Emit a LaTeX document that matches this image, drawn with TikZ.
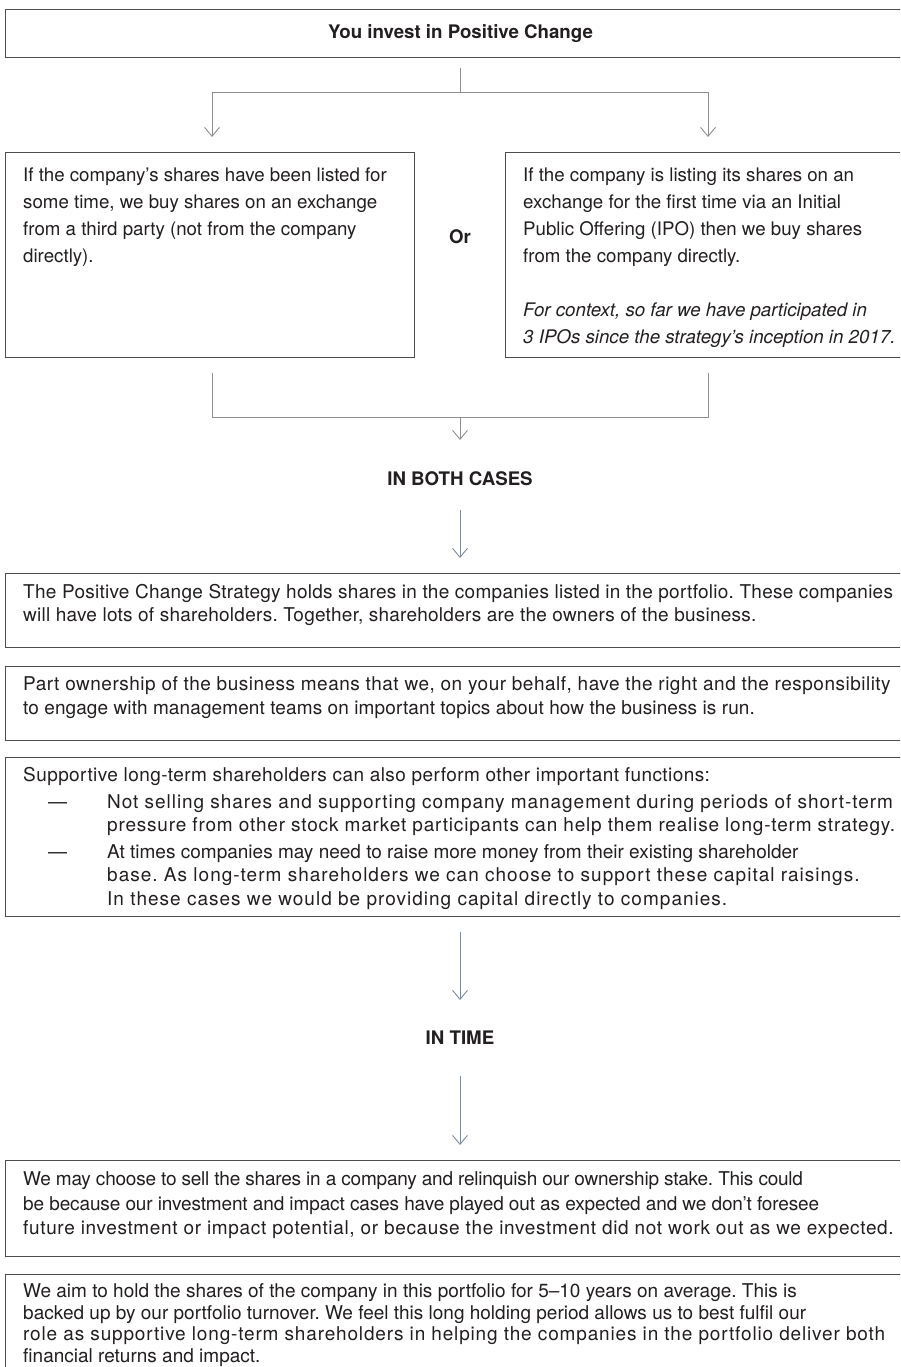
\documentclass[tikz,border=0pt]{standalone}
\usepackage{fontspec}
\setmainfont{TeX Gyre Heros}
\usetikzlibrary{arrows.meta}
\definecolor{txt}{HTML}{231F20}
\definecolor{framecol}{HTML}{4D4D4F}
\definecolor{conncol}{HTML}{8E8E8E}
\definecolor{conncolb}{HTML}{7D8A99}
\newcommand{\tracked}[2]{{\addfontfeature{LetterSpace=#1}#2}}
\begin{document}
\frenchspacing
\begin{tikzpicture}[x=1pt,y=-1pt,
  frame/.style={draw=framecol, line width=1.1pt, inner sep=0pt, anchor=north west, text=txt},
  body/.style={anchor=north west, inner sep=0pt, align=left, text=txt, font=\fontsize{18.7}{27}\selectfont},
  wide/.style={anchor=north west, inner sep=0pt, align=left, text=txt, font=\fontsize{19}{23.5}\selectfont},
  head/.style={inner sep=0pt, text=txt, font=\fontsize{18.7}{27}\selectfont\bfseries},
  conn/.style={draw=conncol, line width=0.9pt},
  connb/.style={draw=conncolb, line width=0.9pt},
  arr/.style={-{Straight Barb[length=9pt,width=15pt,line width=0.9pt]}}]
\clip (0,0) rectangle (900,1367);
\fill[white] (0,0) rectangle (900,1367);

% top box with title
\node[frame, minimum width=910pt, minimum height=48pt, font=\fontsize{18.7}{27}\selectfont\bfseries] (top) at (5,9) {You invest in Positive Change};

% split connector
\coordinate (s0) at (460,68);
\coordinate (j0) at (460,92);
\coordinate (la) at (212,137);
\coordinate (ra) at (708,137);
\draw[conn] (s0) -- (j0);
\draw[conn,arr] (j0) -| (la);
\draw[conn,arr] (j0) -| (ra);

% two option boxes
\node[frame, minimum width=409pt, minimum height=205pt] (lbox) at (5,152) {};
\node[frame, minimum width=410pt, minimum height=205pt] (rbox) at (505,152) {};
\node[body] (ltext) at (23,162.6) {\strut If the company’s shares have been listed for\\
some time, we buy shares on an exchange\\
from a third party (not from the company\\
directly).};
\node[body] (rtext) at (523,162.6) {\strut If the company is listing its shares on an\\
exchange for the first time via an Initial\\
Public Offering (IPO) then we buy shares\\
from the company directly.\\[27pt]
\itshape For context, so far we have participated in\\
\itshape 3 IPOs since the strategy’s inception in 2017.};
\node[head] (or) at (460,237) {Or};

% merge connector
\coordinate (lb) at (212,373);
\coordinate (rb) at (708,373);
\coordinate (j1) at (460,417);
\coordinate (a1) at (460,440);
\draw[conn] (lb) |- (j1);
\draw[conn] (rb) |- (j1);
\draw[conn,arr] (j1) -- (a1);

\node[head] (both) at (460,479) {IN BOTH CASES};
\coordinate (a2s) at (460,510);
\coordinate (a2e) at (460,558);
\draw[connb,arr] (a2s) -- (a2e);

% box 1
\node[frame, minimum width=910pt, minimum height=74pt] (b1) at (5,573) {};
\node[wide] (t1) at (23,581.5) {\strut\tracked{1.4}{The Positive Change Strategy holds shares in the companies listed in the portfolio. These companies}\\
\tracked{1.3}{will have lots of shareholders. Together, shareholders are the owners of the business.}};

% box 2
\node[frame, minimum width=910pt, minimum height=74pt] (b2) at (5,666) {};
\node[wide] (t2) at (23,674) {\strut\tracked{2.6}{Part ownership of the business means that we, on your behalf, have the right and the responsibility}\\
\tracked{0.6}{to engage with management teams on important topics about how the business is run.}};

% box 3
\node[frame, minimum width=910pt, minimum height=159pt] (b3) at (5,757) {};
\node[wide] (t3) at (23,765) {\strut\tracked{2.2}{Supportive long-term shareholders can also perform other important functions:}\\[3pt]
\makebox[84pt][l]{\hspace{25pt}—}\tracked{5.0}{Not selling shares and supporting company management during periods of short-term}\\
\hspace*{84pt}\tracked{4.25}{pressure from other stock market participants can help them realise long-term strategy.}\\[3pt]
\makebox[84pt][l]{\hspace{25pt}—}At times companies may need to raise more money from their existing shareholder\\
\hspace*{84pt}\tracked{5.3}{base. As long-term shareholders we can choose to support these capital raisings.}\\
\hspace*{84pt}\tracked{5.3}{In these cases we would be providing capital directly to companies.}};

\coordinate (a3s) at (460,932);
\coordinate (a3e) at (460,1000);
\draw[connb,arr] (a3s) -- (a3e);
\node[head] (intime) at (460,1038) {IN TIME};
\coordinate (a4s) at (460,1076);
\coordinate (a4e) at (460,1145);
\draw[connb,arr] (a4s) -- (a4e);

% box 4
\node[frame, minimum width=910pt, minimum height=96pt] (b4) at (5,1160) {};
\node[wide, font=\fontsize{19}{24.5}\selectfont] (t4) at (23,1168.5) {\strut\tracked{-1.2}{We may choose to sell the shares in a company and relinquish our ownership stake. This could}\\
\tracked{-0.7}{be because our investment and impact cases have played out as expected and we don’t foresee}\\
\tracked{3.4}{future investment or impact potential, or because the investment did not work out as we expected.}};

% box 5
\node[frame, minimum width=910pt, minimum height=140pt] (b5) at (5,1274) {};
\node[wide, font=\fontsize{19}{21.5}\selectfont] (t5) at (23,1282.5) {\strut We aim to hold the shares of the company in this portfolio for 5–10 years on average. This is\\
backed up by our portfolio turnover. We feel this long holding period allows us to best fulfil our\\
\tracked{4.4}{role as supportive long-term shareholders in helping the companies in the portfolio deliver both}\\
financial returns and impact.};
\end{tikzpicture}
\end{document}
